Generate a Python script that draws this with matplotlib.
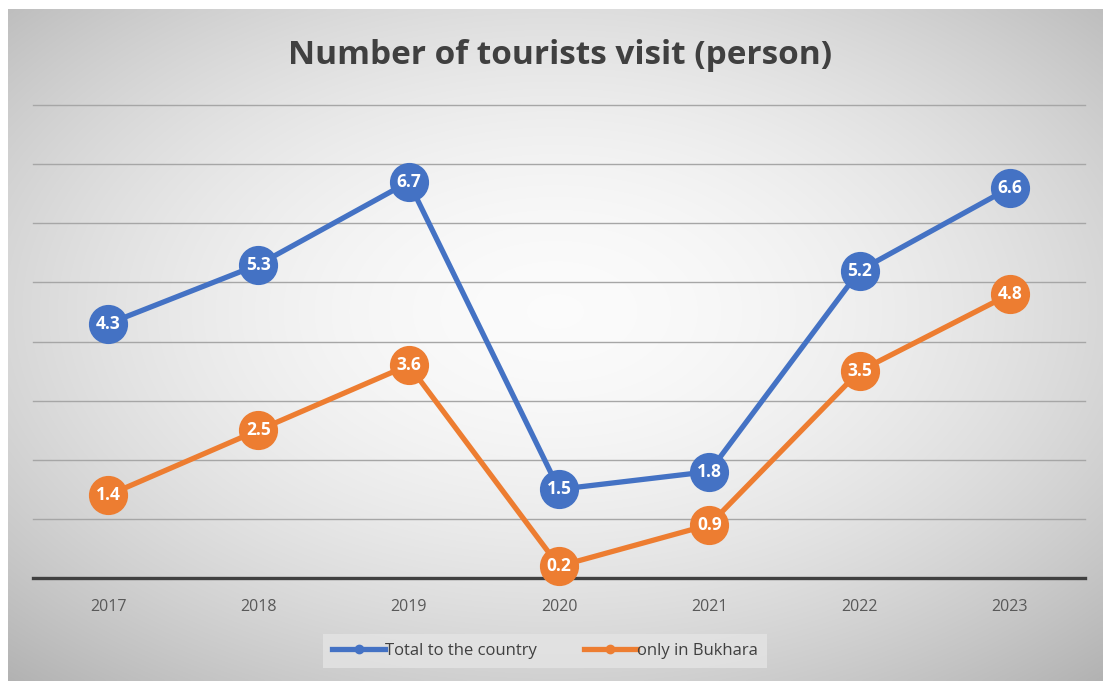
import numpy as np
import matplotlib
matplotlib.use("Agg")
import matplotlib.pyplot as plt
from matplotlib.lines import Line2D

years = ["2017", "2018", "2019", "2020", "2021", "2022", "2023"]
total_country = [4.3, 5.3, 6.7, 1.5, 1.8, 5.2, 6.6]
only_bukhara = [1.4, 2.5, 3.6, 0.2, 0.9, 3.5, 4.8]

blue = "#4472C4"
orange = "#ED7D31"

plt.rcParams['font.family'] = ['Open Sans', 'DejaVu Sans']

W, H = 1103, 681
fig = plt.figure(figsize=(W / 100, H / 100), dpi=100)
fig.patch.set_facecolor("white")

# radial grey background of the chart panel
bg = fig.add_axes([8 / W, 0, 1 - 8 / W, 1 - 9 / H])
bg.set_axis_off()
gx, gy = np.meshgrid(np.linspace(-1, 1, 400), np.linspace(-1, 1, 260))
gy = gy + 0.1
r = np.sqrt(gx ** 2 + gy ** 2)
shade = np.clip(0.985 - 0.14 * r ** 1.8, 0, 1)
bg.imshow(np.dstack([shade] * 3), aspect="auto", extent=[0, 1, 0, 1],
          interpolation="bicubic")

ax = fig.add_axes([33 / W, (H - 578) / H, (1085 - 33) / W, (578 - 105) / H])
ax.patch.set_alpha(0)
x = np.arange(len(years))

for k in range(1, 9):
    ax.axhline(k, color="#a6a6a6", lw=1.0, zorder=1, clip_on=False)
ax.axhline(0, color="#404040", lw=2.4, zorder=2, clip_on=False)

for vals, col in [(total_country, blue), (only_bukhara, orange)]:
    ax.plot(x, vals, color=col, lw=3.8, marker="o", markersize=27,
            markeredgecolor=col, markeredgewidth=1.2, zorder=3,
            solid_joinstyle="round", clip_on=False)
    for xi, v in zip(x, vals):
        ax.text(xi, v, f"{v:.1f}", ha="center", va="center", color="white",
                fontsize=12.5, fontweight="bold", zorder=4)

ax.set_xlim(-0.5, len(years) - 0.5)
ax.set_ylim(0, 8)
ax.set_yticks([])
ax.set_xticks(x)
ax.set_xticklabels(years, fontsize=11.5, color="#595959")
ax.tick_params(axis="x", length=0, pad=15)
for s in ax.spines.values():
    s.set_visible(False)

fig.text(560 / W, 1 - 55 / H, "Number of tourists visit (person)",
         ha="center", va="center", fontsize=24, fontweight="bold",
         color="#404040")

handles = [Line2D([0], [0], color=blue, lw=3.8, marker="o", markersize=6),
           Line2D([0], [0], color=orange, lw=3.8, marker="o", markersize=6)]
leg = fig.legend(handles, ["Total to the country", "only in Bukhara"],
                 loc="center", bbox_to_anchor=(545 / W, 1 - 651 / H),
                 ncol=2, frameon=True, fontsize=12, handlelength=3.2,
                 handletextpad=0.0, columnspacing=2.8, borderpad=0.55,
                 labelcolor="#404040")
leg.get_frame().set_facecolor("#e4e4e4")
leg.get_frame().set_edgecolor("none")
leg.get_frame().set_boxstyle("square", pad=0)

fig.savefig("out.png", dpi=100)
